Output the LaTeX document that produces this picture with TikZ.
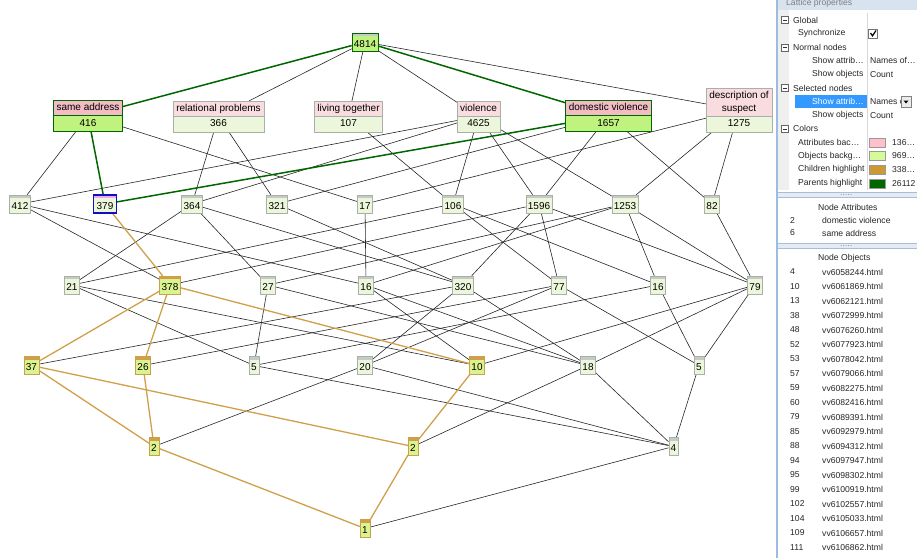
\documentclass[tikz,border=0pt]{standalone}
\usepackage{fontspec}
\setmainfont{Liberation Sans}
\usetikzlibrary{shapes.multipart,backgrounds}
\definecolor{AttrClr}{HTML}{F9DCE0}
\definecolor{AttrSelClr}{HTML}{F3BCC5}
\definecolor{ObjClr}{HTML}{ECF6DA}
\definecolor{ObjSelClr}{HTML}{BFF27F}
\definecolor{ChildClr}{HTML}{D0A048}
\definecolor{ChildFill}{HTML}{DAF38E}
\definecolor{ChildBorder}{HTML}{C8A050}
\definecolor{StripClr}{HTML}{C6CAC6}
\definecolor{ParentClr}{HTML}{006600}
\definecolor{SelBorder}{HTML}{1010C0}
\definecolor{SelStrip}{HTML}{F0A8F0}
\definecolor{BoxClr}{HTML}{A9B0A9}
\definecolor{PanelClr}{HTML}{EFEFEF}
\definecolor{TitleClr}{HTML}{D7E3EF}
\definecolor{SelClr}{HTML}{3399FF}
\definecolor{GridClr}{HTML}{D8D8D8}
\definecolor{SepClr}{HTML}{E4EBF3}
\definecolor{SepLine}{HTML}{A9BED6}
\definecolor{EdgeLine}{HTML}{9DBCE0}
\definecolor{SwPink}{HTML}{FFC0CB}
\definecolor{SwGreen}{HTML}{D6F99A}
\definecolor{SwOrange}{HTML}{CC9933}

\begin{document}
\begin{tikzpicture}[x=1pt,y=-1pt,
  lnk/.style={black!85,line width=.6pt},
  par/.style={ParentClr,line width=1.5pt},
  chd/.style={ChildClr,line width=1.3pt},
  topstrip/.style={path picture={\fill[#1] (path picture bounding box.north west) rectangle ([yshift=-3pt]path picture bounding box.north east);}},
  cpt/.style={draw=BoxClr,fill=ObjClr,topstrip=StripClr,font=\fontsize{10}{10}\selectfont,inner xsep=2pt,inner ysep=0pt,minimum height=18pt,text height=10pt,text depth=0pt},
  cptchd/.style={cpt,draw=ChildBorder,fill=ChildFill,topstrip=ChildClr},
  cptsel/.style={cpt,draw=SelBorder,line width=1.2pt,inner xsep=3pt,topstrip=SelStrip},
  cpttop/.style={cpt,draw=ParentClr,fill=ObjSelClr},
  attr/.style={rectangle split,rectangle split parts=2,draw=BoxClr,rectangle split part fill={AttrClr,ObjClr},font=\fontsize{10}{13}\selectfont,inner xsep=3pt,inner ysep=1pt,align=center,anchor=south},
  attrsel/.style={attr,draw=ParentClr,line width=.8pt,rectangle split part fill={AttrSelClr,ObjSelClr}},
  ptxt/.style={font=\fontsize{8.6}{9}\selectfont,anchor=west,inner sep=0pt,text=black!85},
  minusbox/.style={draw=black!60,fill=white,minimum size=7pt,inner sep=0pt,path picture={\draw[black!80] ([xshift=1.5pt]path picture bounding box.west) -- ([xshift=-1.5pt]path picture bounding box.east);}}]
\useasboundingbox (0,0) rectangle (917,558);

\node[cpttop] (t) at (365,42) {4814};

\node[attrsel] (sa) at (88,132) {\strut same address\nodepart{two}\strut 416};
\node[attr] (rp) at (218.5,132) {\strut relational problems\nodepart{two}\strut 366};
\node[attr] (lt) at (348.5,132) {\strut living together\nodepart{two}\strut 107};
\node[attr] (vi) at (478.5,132) {\strut violence\nodepart{two}\strut 4625};
\node[attrsel] (dv) at (608.5,132) {\strut domestic violence\nodepart{two}\strut 1657};
\node[attr] (ds) at (739,132) {\strut description of\\\strut suspect\nodepart{two}\strut 1275};

\foreach \n/\x in {412/20,364/192,321/277,17/365,106/453,1596/539,1253/625,82/712}
  \node[cpt] (n\n) at (\x,204) {\n};
\node[cptsel] (n379) at (105,204) {379};

\foreach \n/\x/\t in {21/72/21,27/268/27,16a/366/16,320/463/320,77/559/77,16b/658/16,79/755/79}
  \node[cpt] (n\n) at (\x,285) {\t};
\node[cptchd] (n378) at (170,285) {378};

\foreach \n/\x/\t in {5a/254/5,20/365/20,18/588/18,5b/699/5}
  \node[cpt] (n\n) at (\x,365.5) {\t};
\foreach \n/\x in {37/31.5,26/143,10/477}
  \node[cptchd] (n\n) at (\x,365.5) {\n};

\node[cptchd] (n2a) at (154,446.5) {2};
\node[cptchd] (n2b) at (413,446.5) {2};
\node[cpt] (n4) at (673.5,446.5) {4};
\node[cptchd] (n1) at (365,528.5) {1};

\begin{scope}[on background layer]
\foreach \a/\b in {t/rp,t/lt,t/vi,t/ds,sa/n412,sa/n17,rp/n364,rp/n321,lt/n106,
  vi/n412,vi/n364,vi/n106,vi/n1596,vi/n1253,dv/n321,dv/n1596,dv/n82,ds/n17,ds/n1253,ds/n82,
  n412/n378,n412/n16a,n364/n21,n364/n27,n364/n320,n321/n320,n17/n16a,
  n106/n21,n106/n77,n106/n16b,n1596/n378,n1596/n320,n1596/n77,n1596/n79,
  n1253/n27,n1253/n16a,n1253/n16b,n1253/n79,n82/n79,
  n21/n5a,n21/n10,n27/n5a,n27/n18,n16a/n10,n16a/n18,n320/n37,n320/n20,n320/n18,
  n77/n26,n77/n20,n77/n5b,n16b/n5a,n16b/n5b,n79/n10,n79/n18,n79/n5b,
  n5a/n4,n20/n2a,n20/n4,n18/n2b,n18/n4,n5b/n4,n4/n1}
  \draw[lnk] (\a) -- (\b);
\foreach \a/\b in {n379/n378,n378/n37,n378/n26,n378/n10,n37/n2a,n37/n2b,n26/n2a,n10/n2b,n2a/n1,n2b/n1}
  \draw[chd] (\a) -- (\b);
\foreach \a/\b in {t/sa,t/dv,sa/n379,dv/n379}
  \draw[par] (\a) -- (\b);
\end{scope}

\fill[white] (777,0) rectangle (917,558);
\fill[TitleClr] (778,0) rectangle (917,10);
\begin{scope}
\clip (778,0) rectangle (917,10);
\node[ptxt,text=black!50] (ttl) at (786,3) {Lattice properties};
\end{scope}
\fill[PanelClr] (778,10) rectangle (789,190);
\draw[GridClr] (867,13) -- (867,190);
\foreach \i/\t in {0/Global,2/Normal nodes,5/Selected nodes,8/Colors} {
  \node[minusbox] (mb\i) at (785,{20+13.6*\i}) {};
  \node[ptxt] (pc\i) at (793,{20+13.6*\i}) {\t};
}
\fill[SelClr] (795,{20+13.6*6-6.5}) rectangle (866.5,{20+13.6*6+6.5});
\node[ptxt,text=white] (pn6) at (812,{20+13.6*6}) {Show attrib\ldots};
\foreach \i/\x/\t in {1/798/Synchronize,3/812/Show attrib\ldots,4/812/Show objects,7/812/Show objects,
  9/798/Attributes bac\ldots,10/798/Objects backg\ldots,11/798/Children highlight,12/798/Parents highlight}
  \node[ptxt] (pn\i) at (\x,{20+13.6*\i}) {\t};
\foreach \i/\t in {3/Names of\ldots,4/Count,6/Names o,7/Count}
  \node[ptxt] (pv\i) at (870,{20+13.6*\i}) {\t};
\draw[black!55,fill=white] (868.5,29) rectangle (877.5,38);
\draw[line width=1.2pt] (870.5,33) -- (872.5,35.8) -- (876,30.5);
\draw[black!50,fill=black!8] (901,96) rectangle (911,107);
\fill (903.5,100.5) -- (908.5,100.5) -- (906,103.5) -- cycle;
\foreach \i/\c/\t in {9/SwPink/136\ldots,10/SwGreen/969\ldots,11/SwOrange/338\ldots,12/ParentClr/26112} {
  \draw[black!40,fill=\c] (869,{20+13.6*\i-4.5}) rectangle (885,{20+13.6*\i+4.5});
  \node[ptxt] (pw\i) at (892,{20+13.6*\i}) {\t};
}

\foreach \y in {192,243} {
  \fill[SepClr] (778,\y) rectangle (917,\y+5);
  \draw[SepLine] (778,\y) -- (917,\y) (778,\y+5) -- (917,\y+5);
  \foreach \d in {0,1,2,3,4} \fill[black!45] (841+2.5*\d,\y+2.5) circle (.5pt);
}

\node[ptxt] (nah) at (818,207) {Node Attributes};
\node[ptxt] (na1) at (790,220) {2};
\node[ptxt] (na2) at (822,220) {domestic violence};
\node[ptxt] (na3) at (790,233) {6};
\node[ptxt] (na4) at (822,233) {same address};

\node[ptxt] (noh) at (818,258) {Node Objects};
\foreach \k/\n/\f in {0/4/vv6058244.html,1/10/vv6061869.html,2/13/vv6062121.html,3/38/vv6072999.html,
  4/48/vv6076260.html,5/52/vv6077923.html,6/53/vv6078042.html,7/57/vv6079066.html,
  8/59/vv6082275.html,9/60/vv6082416.html,10/79/vv6089391.html,11/85/vv6092979.html,
  12/88/vv6094312.html,13/94/vv6097947.html,14/95/vv6098302.html,15/99/vv6100919.html,
  16/102/vv6102557.html,17/104/vv6105033.html,18/109/vv6106657.html,19/111/vv6106862.html} {
  \node[ptxt] (on\k) at (790,{272+14.5*\k}) {\n};
  \node[ptxt] (of\k) at (822,{272+14.5*\k}) {\f};
}
\draw[EdgeLine,line width=2pt] (777,0) -- (777,558);

\end{tikzpicture}
\end{document}
